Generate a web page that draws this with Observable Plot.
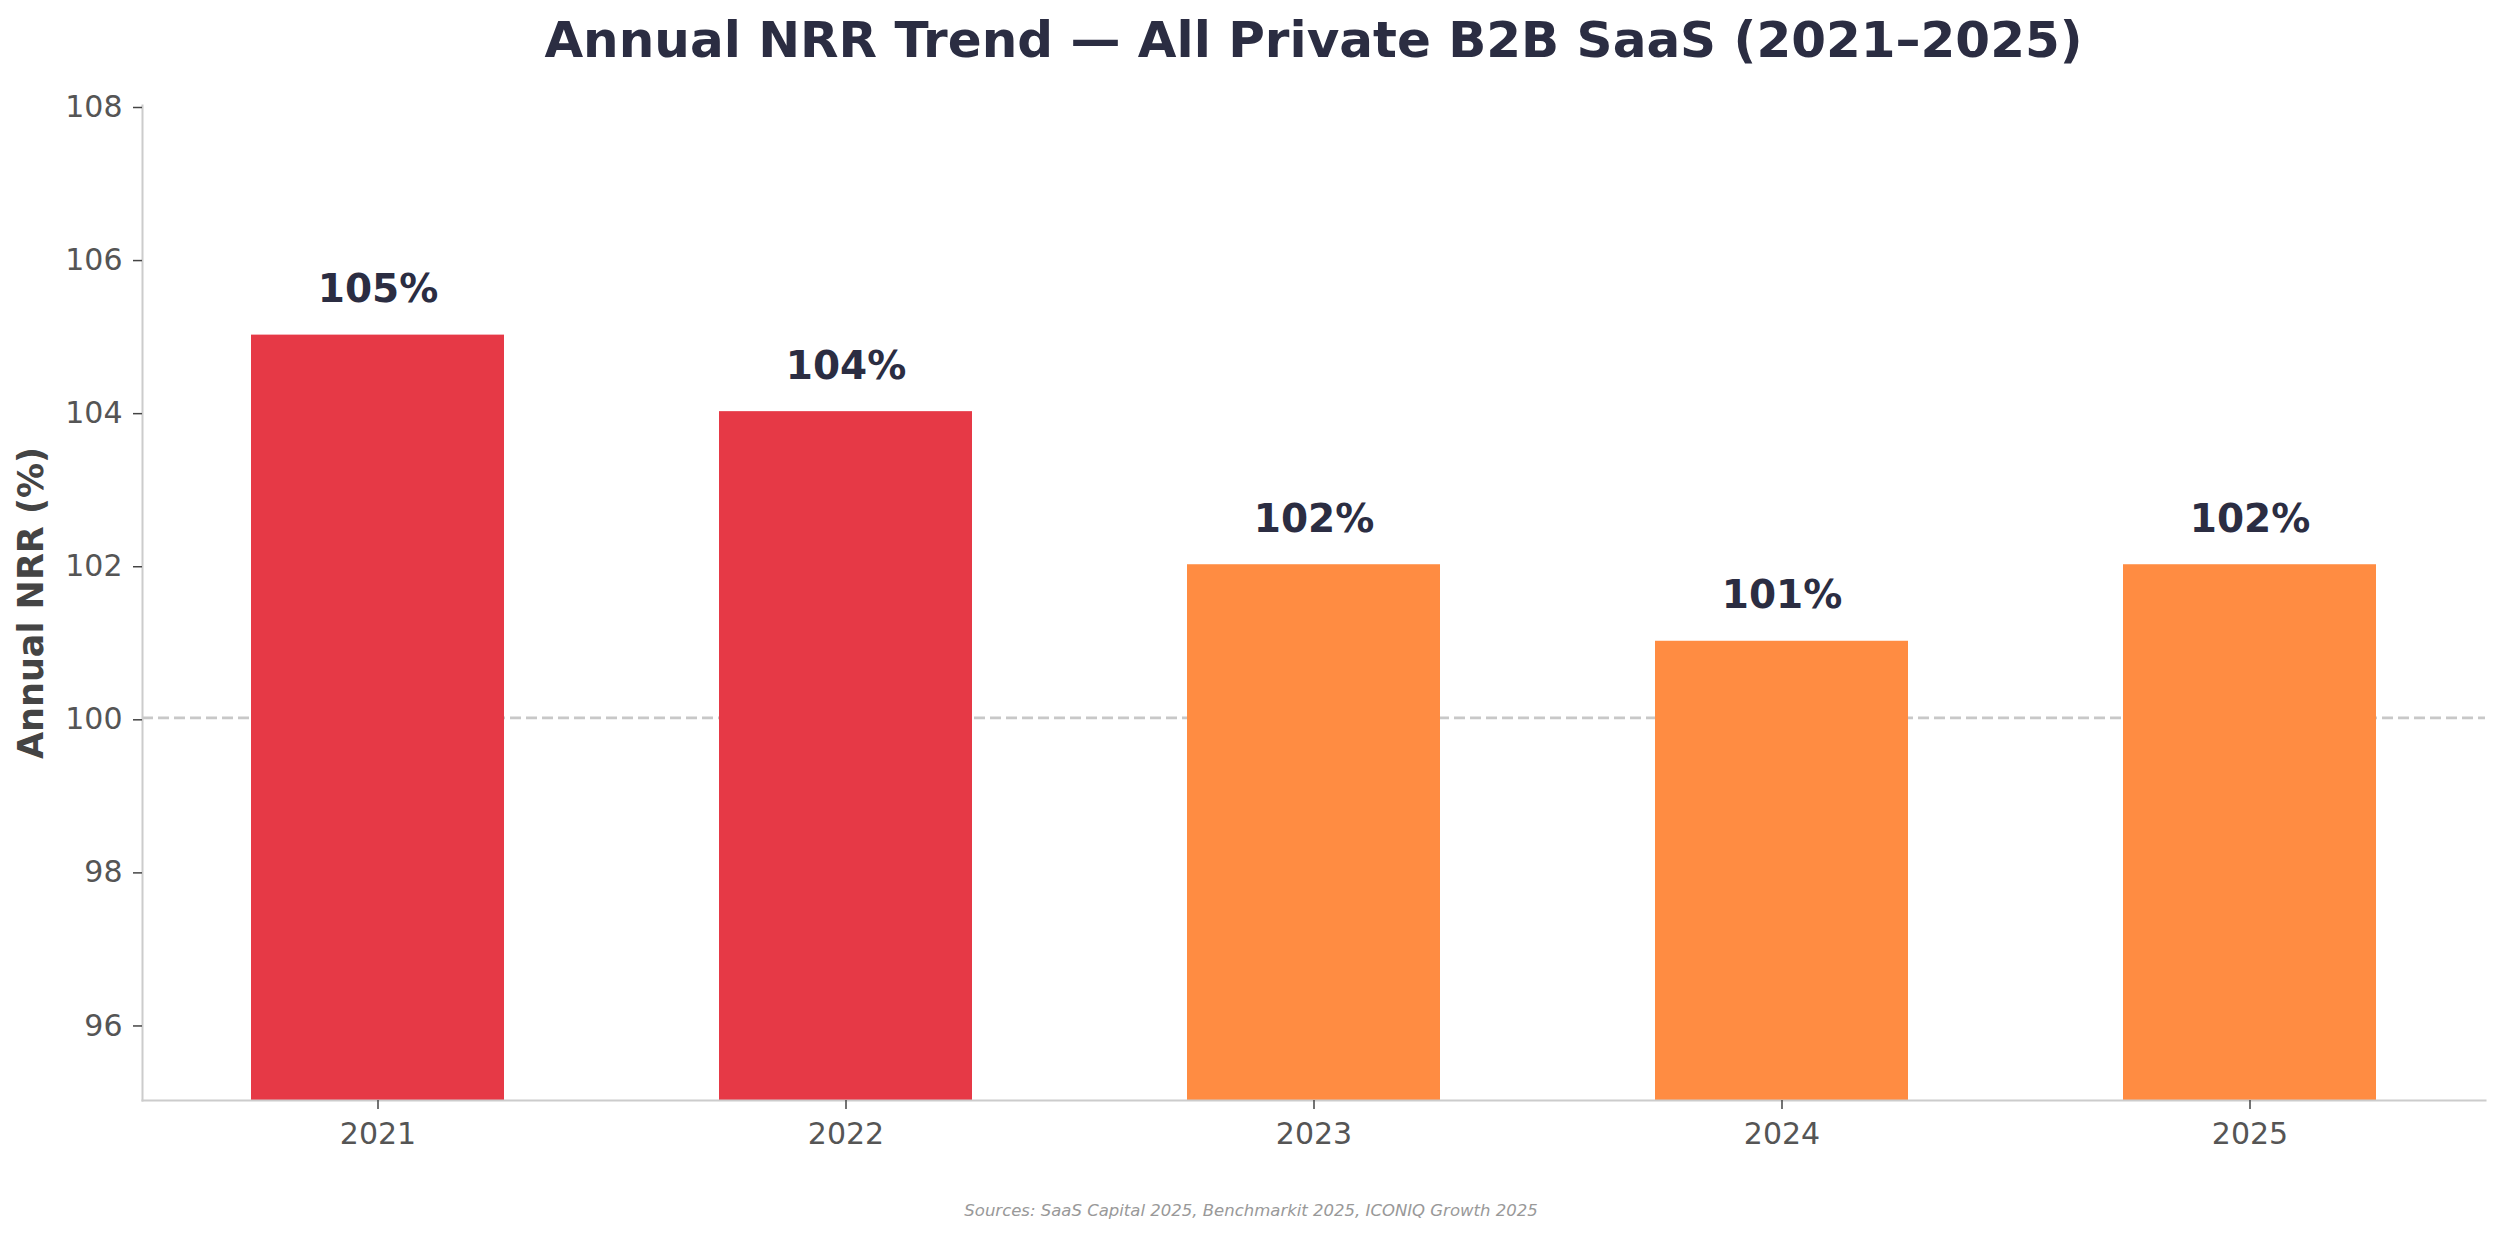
<!DOCTYPE html>
<html>
<head>
<meta charset="utf-8">
<script src="https://cdn.jsdelivr.net/npm/d3@7"></script>
<script src="https://cdn.jsdelivr.net/npm/@observablehq/plot@0.6"></script>
<style>
  html, body { margin: 0; padding: 0; background: #fff; }
  #wrap { width: 2502px; height: 1243px; position: relative; font-family: "DejaVu Sans", sans-serif; }
  #title { height: 80px; line-height: 80px; padding-left: 142px; padding-right: 17px; text-align: center;
           font-size: 50px; font-weight: bold; color: #2b2d42; white-space: nowrap; }
  #chart svg { display: block; }
  #caption { height: 62px; line-height: 62px; text-align: center; font-size: 16.5px; font-style: italic; color: #999; }
</style>
</head>
<body>
<div id="wrap">
  <div id="title">Annual NRR Trend — All Private B2B SaaS (2021–2025)</div>
  <div id="chart"></div>
  <div id="caption">Sources: SaaS Capital 2025, Benchmarkit 2025, ICONIQ Growth 2025</div>
</div>
<script>
const years = ["2021", "2022", "2023", "2024", "2025"];
const nrr = [105, 104, 102, 101, 102];
const barColors = ["#e63946", "#e63946", "#ff8c42", "#ff8c42", "#ff8c42"];
const yTicks = [96, 98, 100, 102, 104, 106, 108];
const yDomain = [95, 108];
const referenceLine = [100];
const yLabel = "Annual NRR (%)";

const data = years.map((y, i) => ({year: y, nrr: nrr[i], color: barColors[i]}));

const chart = Plot.plot({
  width: 2502,
  height: 1100,
  marginLeft: 142,
  marginRight: 17,
  marginTop: 25,
  marginBottom: 80,
  style: {fontFamily: "DejaVu Sans, sans-serif", background: "white", overflow: "visible"},
  x: {domain: years, paddingInner: 0.46, paddingOuter: 0.23, label: null},
  y: {domain: yDomain, label: null},
  marks: [
    Plot.ruleY(referenceLine, {stroke: "#c8c8c8", strokeWidth: 2.7, strokeDasharray: "11,5"}),
    Plot.barY(data, {x: "year", y: "nrr", fill: "color", clip: true}),
    Plot.text(data, {x: "year", y: "nrr", text: d => d.nrr + "%", dy: -33, lineAnchor: "bottom",
      fontSize: 39, fontWeight: "bold", fill: "#2b2d42"}),
    Plot.frame({anchor: "left", stroke: "#cccccc", strokeWidth: 2}),
    Plot.frame({anchor: "bottom", stroke: "#cccccc", strokeWidth: 2}),
    Plot.axisY({ticks: yTicks, tickSize: 9, tickPadding: 11, dy: 2, fontSize: 30, fill: "#555555", stroke: "#444444", strokeWidth: 1.5, label: null}),
    Plot.axisX({tickSize: 9, tickPadding: 13, fontSize: 30, fill: "#555555", stroke: "#444444", strokeWidth: 1.5, label: null}),
    Plot.text([yLabel], {frameAnchor: "left", dx: -111, rotate: -90, text: d => d, textAnchor: "middle",
      lineAnchor: "middle", fontSize: 35, fontWeight: "bold", fill: "#444444"})
  ]
});
document.getElementById("chart").appendChild(chart);
</script>
</body>
</html>
